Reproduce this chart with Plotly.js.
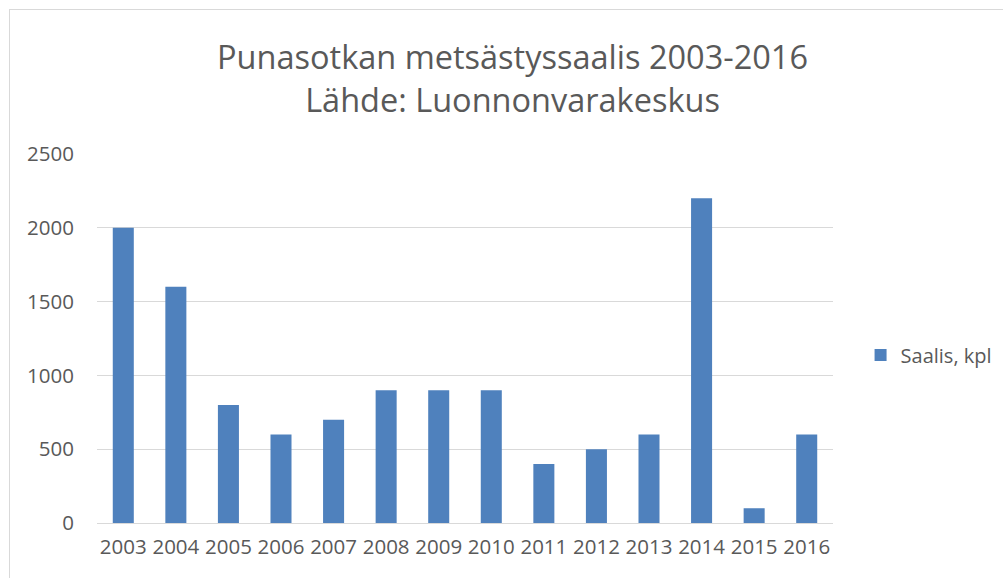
<!DOCTYPE html>
<html>
<head>
<meta charset="utf-8">
<script src="https://cdn.plot.ly/plotly-3.0.1.min.js"></script>
<style>
html,body{margin:0;padding:0;background:#fff;}
#frame{position:absolute;left:9px;top:9px;width:1200px;height:800px;border:1px solid #d9d9d9;}
#chart{position:absolute;left:0;top:0;width:1003px;height:578px;}
</style>
</head>
<body>
<div id="frame"></div>
<div id="chart"></div>
<script>
const years = ["2003","2004","2005","2006","2007","2008","2009","2010","2011","2012","2013","2014","2015","2016"];
const saalis = [2000,1600,800,600,700,900,900,900,400,500,600,2200,100,600];
const seriesName = "Saalis, kpl";
const yTicks = [0,500,1000,1500,2000,2500];

const FONT = "Open Sans, sans-serif";
const trace = {
  type: "bar",
  x: years,
  y: saalis,
  name: seriesName,
  marker: {color: "#4f81bd"},
  showlegend: true
};
const layout = {
  width: 1003, height: 578,
  paper_bgcolor: "rgba(0,0,0,0)",
  plot_bgcolor: "rgba(0,0,0,0)",
  margin: {l: 97, r: 170, t: 154, b: 55, autoexpand: false},
  bargap: 0.6,
  title: {
    text: "Punasotkan metsästyssaalis 2003-2016<br>Lähde: Luonnonvarakeskus",
    font: {family: FONT, size: 32.5, color: "#595959"},
    x: 0.511, xanchor: "center",
    y: 0.88, yanchor: "top", yref: "container"
  },
  xaxis: {
    type: "category",
    tickfont: {family: FONT, size: 20.5, color: "#595959"},
    showgrid: false,
    showline: true, linecolor: "#d9d9d9", linewidth: 1,
    ticks: "", ticklabelstandoff: 5
  },
  yaxis: {
    range: [0, 2500],
    tickvals: yTicks,
    ticktext: yTicks.map(String),
    tickfont: {family: FONT, size: 20.5, color: "#595959"},
    showgrid: true, gridcolor: "#d9d9d9", gridwidth: 1,
    zeroline: false, showline: false,
    ticks: "", ticklabelstandoff: 22
  },
  legend: {
    xref: "container", yref: "container",
    x: 0.858, y: 1 - 355/578, xanchor: "left", yanchor: "middle",
    font: {family: FONT, size: 20, color: "#595959"},
    itemwidth: 30
  }
};
Plotly.newPlot("chart", [trace], layout, {displayModeBar: false, staticPlot: true});
</script>
</body>
</html>
